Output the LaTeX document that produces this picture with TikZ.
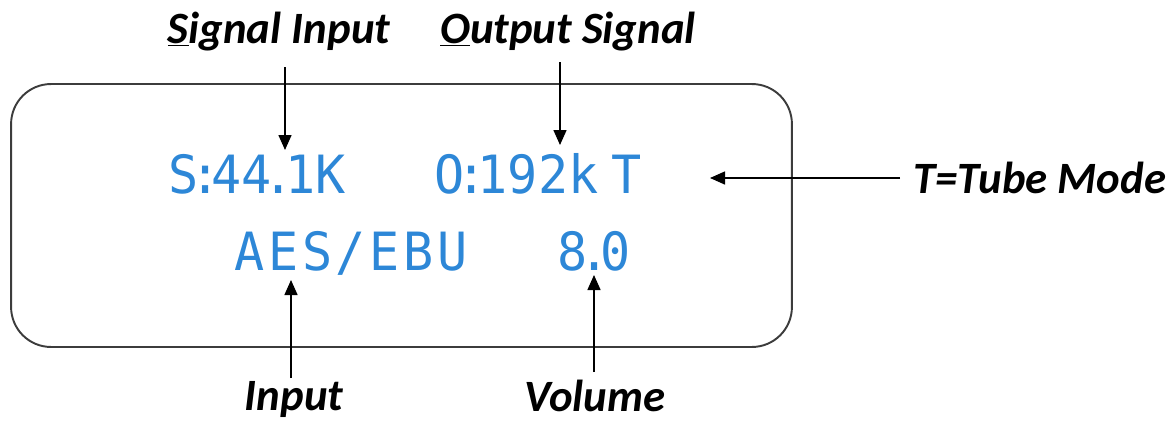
\documentclass[tikz,border=0pt]{standalone}
\usepackage{fontspec}
\setmainfont{Carlito}
\newfontfamily\lcdfont[FakeStretch=0.95]{DejaVu Sans Mono}
\usetikzlibrary{arrows.meta}
\definecolor{lcdblue}{RGB}{45,135,215}
\definecolor{panelgray}{RGB}{60,60,60}
\newcommand\lcdnarrow[1]{\makebox[0.25em]{#1}}

\begin{document}
\begin{tikzpicture}[x=0.02cm,y=-0.02cm,
  lbl/.style={font=\fontsize{25.5}{30}\selectfont\bfseries\itshape,inner sep=0pt},
  lcd/.style={font=\lcdfont\fontsize{30}{36}\selectfont,text=lcdblue,inner sep=0pt,anchor=base west},
  panel/.style={draw=panelgray,line width=1.1pt,rounded corners=0.8cm,minimum width=15.62cm,minimum height=5.26cm,inner sep=0pt},
  ptr/.style={-{Triangle[length=3mm,width=2.6mm]},line width=0.85pt}
]
  \useasboundingbox (0,0) rectangle (1174,420);
  \node[panel] (disp) at (401.5,215.5) {};

  % display readout
  \node[lcd] (rate)  at (168,193) {S\lcdnarrow{:}44\lcdnarrow{.}1K};
  \node[lcd] (outrt) at (434,193) {O\lcdnarrow{:}192k\lcdnarrow{}T};
  \node[lcd] (src)   at (234,270) {\addfontfeature{LetterSpace=7}AES/EBU};
  \node[lcd] (vol)   at (557,270) {8\lcdnarrow{.}0};

  % labels
  \node[lbl,anchor=base] (lsig)  at (279,43)  {\underline{S}ignal Input};
  \node[lbl,anchor=base] (lout)  at (568,43)  {\underline{O}utput Signal};
  \node[lbl,anchor=base west] (ltube) at (913,193) {T=Tube Mode};
  \node[lbl,anchor=base] (lin)   at (294,410) {Input};
  \node[lbl,anchor=base] (lvol)  at (595,411) {Volume};

  % pointers
  \coordinate (sigtail)  at (285,67);  \coordinate (sigtip)  at (285,150);
  \coordinate (outtail)  at (560,62);  \coordinate (outtip)  at (560,145);
  \coordinate (tubetail) at (900,178); \coordinate (tubetip) at (710,178);
  \coordinate (intail)   at (291,378); \coordinate (intip)   at (291,280);
  \coordinate (voltail)  at (594,372); \coordinate (voltip)  at (594,275);
  \draw[ptr] (sigtail)--(sigtip);
  \draw[ptr] (outtail)--(outtip);
  \draw[ptr] (tubetail)--(tubetip);
  \draw[ptr] (intail)--(intip);
  \draw[ptr] (voltail)--(voltip);
\end{tikzpicture}
\end{document}
